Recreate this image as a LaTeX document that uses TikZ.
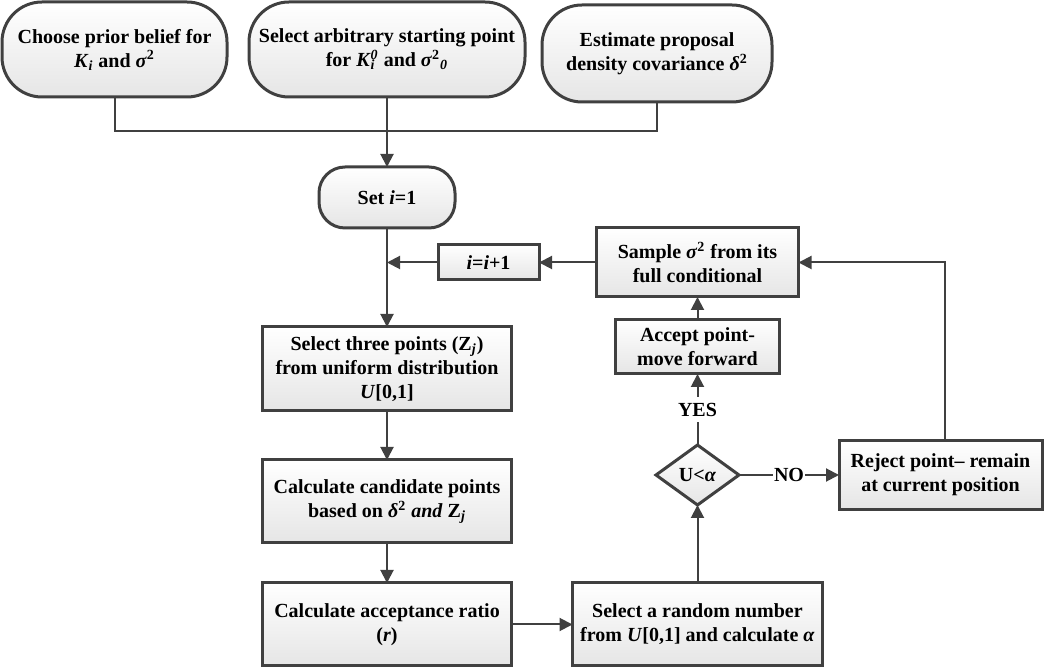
\documentclass[tikz,border=0pt]{standalone}
\usepackage{fontspec}
\setmainfont{Liberation Serif}
\usetikzlibrary{shapes.geometric, arrows.meta}
\usetikzlibrary{positioning}
\definecolor{linegray}{HTML}{404040}
\tikzstyle{terminal} = [rectangle, rounded corners=20pt, minimum width=112.5pt, minimum
height=47.5pt, inner sep=0pt, outer sep=0pt, text centered, align=center, draw=linegray,
line width=1.5pt, top color=white, bottom color=black!10, font=\bfseries]
\tikzstyle{process} = [rectangle, minimum width=124.5pt, minimum height=41.5pt, inner sep=0pt,
outer sep=0pt, text centered, align=center, draw=linegray, line width=1.5pt, top color=white,
bottom color=black!10, font=\bfseries]
\tikzstyle{decision} = [diamond, minimum width=41.5pt, minimum height=30pt, inner sep=0pt,
outer sep=0pt, text centered, draw=linegray, line width=1.5pt, top color=white,
bottom color=black!10, font=\bfseries]
\tikzstyle{lab} = [fill=white, font=\bfseries, inner xsep=0.5pt, inner ysep=3pt]
\tikzstyle{link} = [draw=linegray, line width=1pt]
\tikzstyle{arrow} = [link, -{Triangle[length=6.5pt,width=6.5pt]}]

\begin{document}
\begin{tikzpicture} [node distance=1cm]
    \useasboundingbox (0,0) rectangle (522.5pt,-333.5pt);
    \node (ter2) [terminal, minimum width=138pt] at (193.5pt,-24.75pt) {Select arbitrary starting point\\for \textit{K}\rlap{\textsubscript{\textit{i}}}\textsuperscript{\textit{0}} and \textit{σ}\textsuperscript{2}\textsubscript{\textit{0}}};
    \node (ter1) [terminal, left=11pt of ter2] {Choose prior belief for\\\textit{K}\textsubscript{\textit{i}} and \textit{σ}\textsuperscript{2}};
    \node (ter3) [terminal, right=8.5pt of ter2, minimum width=115pt, minimum height=48.5pt, yshift=-2pt] {Estimate proposal\\density covariance \textit{δ}\textsuperscript{2}};
    \node (seti) [terminal, below=35pt of ter2, minimum width=68pt, minimum height=30.5pt, rounded corners=13pt] {Set \textit{i}=1};
    \node (pro1) [process, below=49.5pt of seti, minimum height=42pt] {Select three points (Z\textsubscript{\textit{j}})\\from uniform distribution\\\textit{U}[0,1]};
    \node (pro2) [process, below=24.5pt of pro1] {Calculate candidate points\\based on \textit{δ}\textsuperscript{2} \textit{and} Z\textsubscript{\textit{j}}};
    \node (pro3) [process, below=20pt of pro2] {Calculate acceptance ratio\\(\textit{r})};
    \node (pro4) [process, right=30.5pt of pro3, minimum width=125pt] {Select a random number\\from \textit{U}[0,1] and calculate \textit{α}};
    \node (dec1) [decision, above=39pt of pro4] {U<\textit{α}};
    \node (pro5) [process, above=35.5pt of dec1, minimum width=82pt, minimum height=27pt] {Accept point-\\move forward};
    \node (pro6) [process, above=11.5pt of pro5, minimum width=101pt, minimum height=34.5pt] {Sample \textit{σ}\textsuperscript{2} from its\\full conditional};
    \node (inc) [process, left=28.75pt of pro6, minimum width=50.5pt, minimum height=17.5pt] {\textit{i}=\textit{i}+1};
    \node (pro7) [process, right=50pt of dec1, minimum width=101.5pt, minimum height=34.5pt] {Reject point– remain\\at current position};
    \coordinate [below=17pt of ter2.south] (jn);

    \draw[link] (ter1.south) |- (jn) -| (ter3.south);
    \draw[arrow] (ter2) -- (seti);
    \draw[arrow] (seti) -- (pro1);
    \draw[arrow] (inc) -- (inc -| seti);
    \draw[arrow] (pro6) -- (inc);
    \draw[arrow] (pro1) -- (pro2);
    \draw[arrow] (pro2) -- (pro3);
    \draw[arrow] (pro3) -- (pro4);
    \draw[arrow] (pro4) -- (dec1);
    \draw[arrow] (dec1) -- node[lab] {YES} (pro5);
    \draw[arrow] (pro5) -- (pro6);
    \draw[arrow] (dec1) -- node[lab] {NO} (pro7);
    \draw[arrow] ([xshift=2.25pt]pro7.north) |- (pro6.east);

\end{tikzpicture}
\end{document}
